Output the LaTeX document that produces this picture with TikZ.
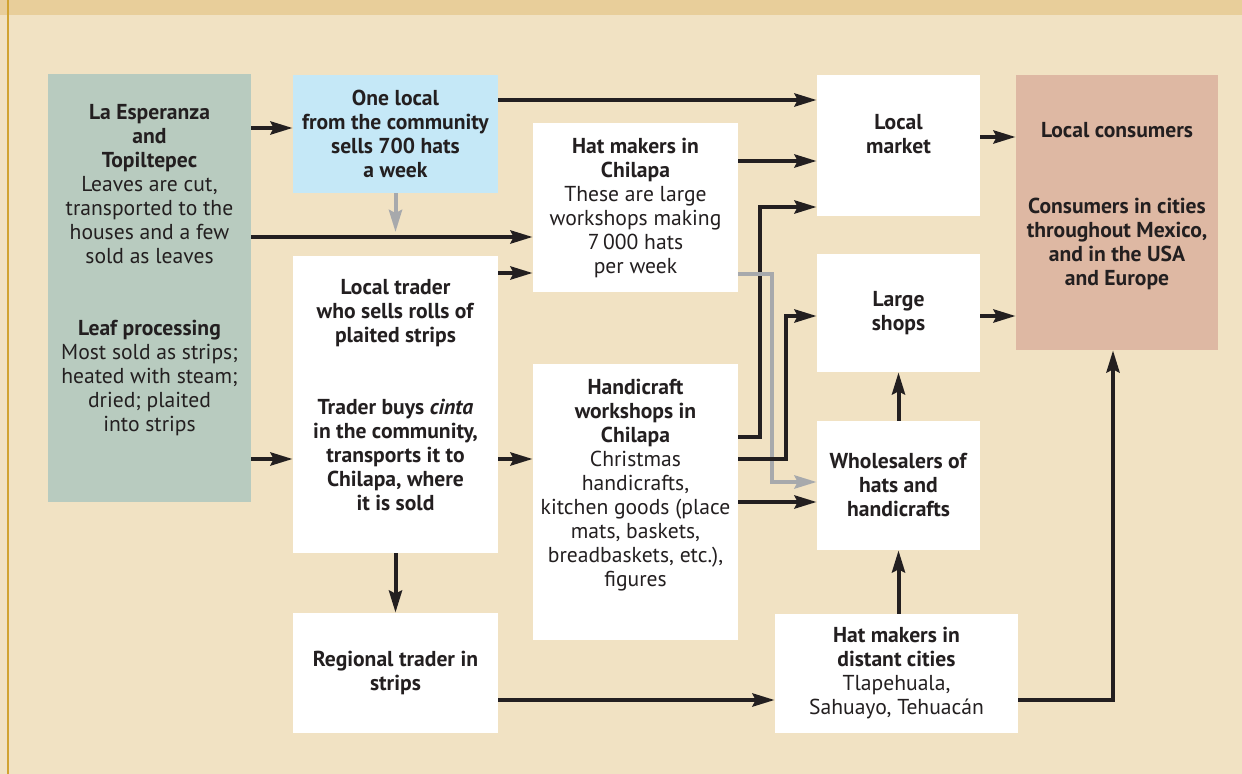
\documentclass[tikz,border=0pt]{standalone}
\usepackage{fontspec}
\setmainfont{PT Sans}
\usepackage{tikz}
\usetikzlibrary{positioning, arrows.meta, calc}

\definecolor{ink}{HTML}{231F20}
\definecolor{paper}{HTML}{F1E2C3}
\definecolor{band}{HTML}{E8CE9A}
\definecolor{rule}{HTML}{D1A332}
\definecolor{leaf}{HTML}{B8CBBF}
\definecolor{sky}{HTML}{C5E8F7}
\definecolor{rose}{HTML}{DEB8A3}
\definecolor{ash}{HTML}{A7A9AC}

\begin{document}
\begin{tikzpicture}[
  x=0.5pt, y=-0.5pt,
  box/.style={inner sep=0pt, align=center, text=ink,
    font=\fontsize{10.8}{12}\selectfont},
  plain/.style={box, fill=white},
  source/.style={box, fill=leaf},
  seller/.style={box, fill=sky},
  buyer/.style={box, fill=rose},
  arr/.style={-{Stealth[length=11pt, width=6.5pt, inset=1.5pt]},
    line width=2pt, draw=ink},
  grayarr/.style={arr, draw=ash},
]

% --- frame ---
\useasboundingbox (0,0) rectangle (1242,774);
\fill[paper] (0,0) rectangle (1242,774);
\fill[band] (0,0) rectangle (1242,15);
\draw[rule, line width=1pt] (8,0) -- (8,774);

% --- left column ---
\node[source, minimum width=101.5pt, minimum height=214pt] (src) at (149.5,288)
  {\textbf{La Esperanza}\\\textbf{and}\\\textbf{Topiltepec}\\Leaves are cut,\\
   transported to the\\houses and a few\\sold as leaves\\[24pt]
   \textbf{Leaf processing}\\Most sold as strips;\\heated with steam;\\
   dried; plaited\\into strips\\[8pt]\mbox{}};

% --- traders ---
\node[seller, minimum width=102.5pt, minimum height=59pt] (local) at (395.5,134)
  {\textbf{One local}\\\textbf{from the community}\\\textbf{sells 700 hats}\\\textbf{a week}};
\node[plain, minimum width=102.5pt, minimum height=148.5pt] (trader) at (395.5,404.5)
  {\textbf{Local trader}\\\textbf{who sells rolls of}\\\textbf{plaited strips}\\[24pt]
   \textbf{Trader buys \textit{cinta}}\\\textbf{in the community,}\\
   \textbf{transports it to}\\\textbf{Chilapa, where}\\\textbf{it is sold}\\[-2pt]\mbox{}};
\node[plain, minimum width=102.5pt, minimum height=60pt] (regional) at (395.5,673)
  {\textbf{Regional trader in}\\\textbf{strips}};

% --- workshops ---
\node[plain, minimum width=102.5pt, minimum height=84.5pt] (hatchil) at (635.5,207.5)
  {\textbf{Hat makers in}\\\textbf{Chilapa}\\These are large\\workshops making\\7\,000 hats\\per week};
\node[plain, minimum width=102.5pt, minimum height=138pt] (handi) at (635.5,502)
  {\textbf{Handicraft}\\\textbf{workshops in}\\\textbf{Chilapa}\\Christmas\\handicrafts,\\
   kitchen goods (place\\mats, baskets,\\breadbaskets, etc.),\\figures\\[7pt]\mbox{}};

% --- outlets ---
\node[plain, minimum width=81.5pt, minimum height=70.5pt] (market) at (898.5,145.5)
  {\textbf{Local}\\\textbf{market}\\\mbox{}};
\node[plain, minimum width=81.5pt, minimum height=59pt] (shops) at (898.5,313)
  {\textbf{Large}\\\textbf{shops}};
\node[plain, minimum width=81.5pt, minimum height=64.5pt] (whole) at (898.5,485.5)
  {\textbf{Wholesalers of}\\\textbf{hats and}\\\textbf{handicrafts}};
\node[plain, minimum width=121.5pt, minimum height=59.5pt] (distant) at (896.5,673.5)
  {\textbf{Hat makers in}\\\textbf{distant cities}\\Tlapehuala,\\Sahuayo, Tehuac\'an};

% --- consumers ---
\node[buyer, minimum width=101pt, minimum height=137.5pt] (cons) at (1117,212.5)
  {\textbf{Local consumers}\\[26pt]\textbf{Consumers in cities}\\
   \textbf{throughout Mexico,}\\\textbf{and in the USA}\\\textbf{and Europe}\\[-3.5pt]\mbox{}};

\coordinate (merge) at (395.5,232);

% --- flows out of the community ---
\draw[arr] (src.east |- 0,128) -- (local.west |- 0,128);
\draw[arr] (src.east |- 0,237) -- (hatchil.west |- 0,237);
\draw[arr] (src.east |- 0,459) -- (trader.west |- 0,459);
\draw[grayarr] (local.south) -- (merge);

% --- traders to makers and markets ---
\draw[arr] (local.east |- 0,100) -- (market.west |- 0,100);
\draw[arr] (trader.east |- 0,273) -- (hatchil.west |- 0,273);
\draw[arr] (trader.east |- 0,459) -- (handi.west |- 0,459);
\draw[arr] (trader.south) -- (regional.north);
\draw[arr] (regional.east |- 0,700) -- (distant.west |- 0,700);

% --- makers to outlets ---
\draw[arr] (hatchil.east |- 0,161) -- (market.west |- 0,161);
\draw[arr] (handi.east |- 0,437) -- (760,437) |- (market.west |- 0,207);
\draw[grayarr] (hatchil.east |- 0,274) -- (772,274) |- (whole.west |- 0,482);
\draw[arr] (handi.east |- 0,459) -- (786,459) |- (shops.west |- 0,316);
\draw[arr] (handi.east |- 0,502) -- (whole.west |- 0,502);
\draw[arr] (distant.north -| whole.south) -- (whole.south);
\draw[arr] (whole.north) -- (shops.south);

% --- outlets to consumers ---
\draw[arr] (market.east |- 0,137) -- (cons.west |- 0,137);
\draw[arr] (shops.east |- 0,316) -- (cons.west |- 0,316);
\draw[arr] (distant.east |- 0,700) -| (cons.south -| 1113,0);

\end{tikzpicture}
\end{document}
